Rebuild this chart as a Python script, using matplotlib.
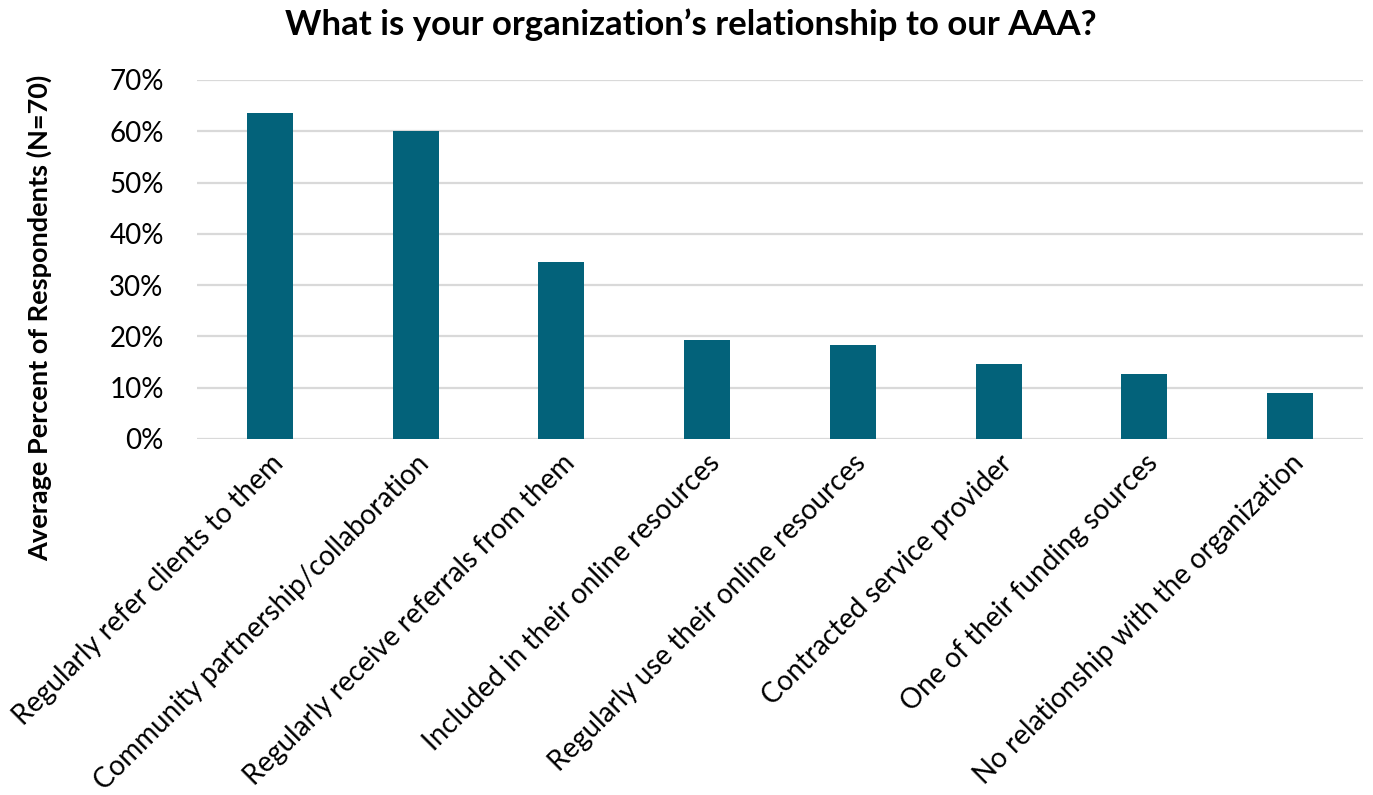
import matplotlib.pyplot as plt
from matplotlib.ticker import PercentFormatter

plt.rcParams['font.family'] = ['Lato', 'DejaVu Sans']

categories = [
    "Regularly refer clients to them",
    "Community partnership/collaboration",
    "Regularly receive referrals from them",
    "Included in their online resources",
    "Regularly use their online resources",
    "Contracted service provider",
    "One of their funding sources",
    "No relationship with the organization",
]
percents = [0.635, 0.600, 0.345, 0.193, 0.183, 0.146, 0.127, 0.090]

bar_color = "#03627A"
grid_color = "#D9D9D9"

fig = plt.figure(figsize=(13.73, 7.95), dpi=100)
ax = fig.add_axes([0.1435, 0.4478, 0.8492, 0.4516])

x = range(len(categories))
ax.bar(x, percents, width=0.315, color=bar_color, zorder=3)

ax.set_xlim(-0.5, len(categories) - 0.5)
ax.set_ylim(0, 0.7)
ax.set_yticks([i / 10 for i in range(8)])
ax.yaxis.set_major_formatter(PercentFormatter(1.0, decimals=0))
ax.grid(axis="y", color=grid_color, linewidth=1.6, zorder=0)
ax.tick_params(axis="y", length=0, pad=24, labelsize=20)
ax.tick_params(axis="x", length=0, pad=8)
for s in ax.spines.values():
    s.set_visible(False)

ax.set_xticks(list(x))
ax.set_xticklabels(categories, rotation=45, ha="right", rotation_mode="anchor",
                   fontsize=20)

ax.set_ylabel("Average Percent of Respondents (N=70)", fontsize=19.5,
              fontweight="bold", va="center")
# axis title sits lower than the plot centre, level with the slanted labels too
ax.yaxis.set_label_coords(-0.135, 0.337)
fig.suptitle("What is your organization\u2019s relationship to our AAA?",
             fontsize=25, fontweight="bold", x=0.503, y=0.99, va="top")

fig.savefig("out.png", dpi=100)
